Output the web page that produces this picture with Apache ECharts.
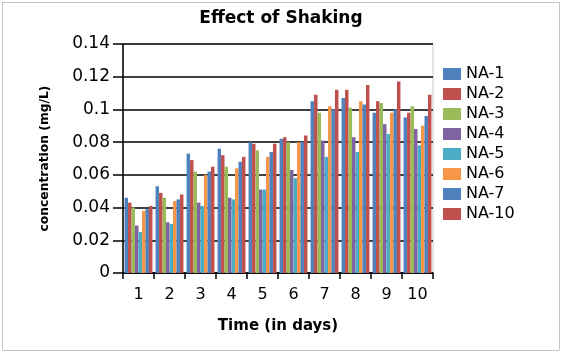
<!DOCTYPE html>
<html>
<head>
<meta charset="utf-8">
<script src="https://cdn.jsdelivr.net/npm/echarts@6/dist/echarts.min.js"></script>
<style>
html,body{margin:0;padding:0;background:#fff;}
#c{width:562px;height:354px;}
</style>
</head>
<body>
<div id="c"></div>
<script>
var categories = ['1','2','3','4','5','6','7','8','9','10'];
var seriesNames = ['NA-1','NA-2','NA-3','NA-4','NA-5','NA-6','NA-7','NA-10'];
var NA1  = [0.046,0.053,0.073,0.076,0.080,0.082,0.105,0.107,0.098,0.095];
var NA2  = [0.043,0.049,0.069,0.072,0.079,0.083,0.109,0.112,0.105,0.098];
var NA3  = [0.040,0.046,0.062,0.065,0.075,0.080,0.098,0.101,0.104,0.102];
var NA4  = [0.029,0.031,0.043,0.046,0.051,0.063,0.081,0.083,0.091,0.088];
var NA5  = [0.025,0.030,0.041,0.045,0.051,0.058,0.071,0.074,0.085,0.078];
var NA6  = [0.038,0.044,0.060,0.064,0.071,0.080,0.102,0.105,0.098,0.090];
var NA7  = [0.039,0.045,0.062,0.068,0.074,0.080,0.100,0.103,0.100,0.096];
var NA10 = [0.041,0.048,0.065,0.071,0.079,0.084,0.112,0.115,0.117,0.109];
var seriesValues = [NA1,NA2,NA3,NA4,NA5,NA6,NA7,NA10];
var colors = ['#4F81BD','#C0504D','#9BBB59','#8064A2','#4BACC6','#F79646','#4F81BD','#C0504D'];

var chart = echarts.init(document.getElementById('c'));
var series = seriesNames.map(function(n,i){
  return {
    name:n, type:'bar', data:seriesValues[i],
    barGap:'0%', barCategoryGap:'10%',
    itemStyle:{color:colors[i]}
  };
});
chart.setOption({
  animation:false,
  color:colors,
  title:{
    text:'Effect of Shaking', left:'center', top:5,
    textStyle:{fontFamily:'DejaVu Sans', fontSize:17, fontWeight:'bold', color:'#000'}
  },
  legend:{
    orient:'vertical', left:443, top:66, padding:0,
    itemWidth:18, itemHeight:12, itemGap:4,
    icon:'rect',
    data:seriesNames,
    textStyle:{fontFamily:'DejaVu Sans', fontSize:16, color:'#000'}
  },
  grid:{left:123, right:129, top:44, bottom:81, show:true, borderColor:'#cccccc', borderWidth:1},
  xAxis:{
    type:'category', data:categories,
    name:'Time (in days)', nameLocation:'middle', nameGap:46,
    nameTextStyle:{fontFamily:'DejaVu Sans', fontSize:15, fontWeight:'bold', color:'#000'},
    axisLine:{lineStyle:{color:'#000', width:1.5}},
    axisTick:{show:true, alignWithLabel:false, length:6, lineStyle:{color:'#000', width:1.5}},
    axisLabel:{fontFamily:'DejaVu Sans', fontSize:16, color:'#000', margin:14}
  },
  yAxis:{
    type:'value', min:0, max:0.14, interval:0.02,
    name:'concentration (mg/L)', nameLocation:'middle', nameGap:72,
    nameTextStyle:{fontFamily:'DejaVu Sans', fontSize:12.3, fontWeight:'bold', color:'#000'},
    axisLine:{show:true, lineStyle:{color:'#000', width:1.5}},
    axisTick:{show:true, length:10, lineStyle:{color:'#000', width:1.5}},
    axisLabel:{fontFamily:'DejaVu Sans', fontSize:17, color:'#000', margin:13},
    splitLine:{show:true, lineStyle:{color:'#000', width:1.5}}
  },
  graphic:[{
    type:'rect', z:-10, silent:true,
    shape:{x:2.5, y:2.5, width:557, height:348},
    style:{fill:'none', stroke:'#c4c4c4', lineWidth:1}
  }],
  series:series
});
</script>
</body>
</html>
